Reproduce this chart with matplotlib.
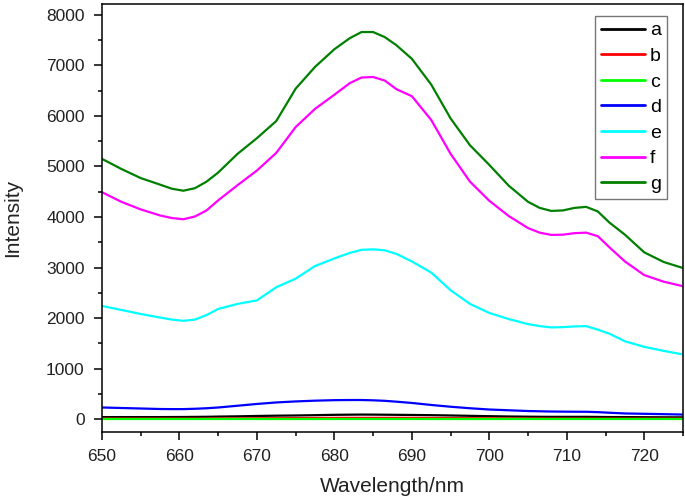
import matplotlib
matplotlib.use("Agg")
import matplotlib.pyplot as plt
from matplotlib.ticker import MultipleLocator

plt.rcParams['font.family'] = ['Liberation Sans', 'DejaVu Sans']

wavelength = [650, 652.5, 655, 657.5, 659, 660.5, 662, 663.5, 665, 667.5,
              670, 672.5, 675, 677.5, 680, 682, 683.5, 685, 686.5, 688,
              690, 692.5, 695, 697.5, 700, 702.5, 705, 706.5, 708, 709.5,
              711, 712.5, 714, 715.5, 717.5, 720, 722.5, 725]

a = [40, 40, 40, 40, 41, 42, 44, 46, 50, 55,
     62, 68, 72, 78, 85, 88, 90, 89, 87, 85,
     82, 78, 72, 65, 58, 52, 48, 46, 45, 45,
     45, 45, 43, 41, 40, 38, 36, 35]
b = [10, 10, 10, 10, 10, 10, 10, 11, 12, 14,
     16, 18, 20, 22, 24, 25, 25, 25, 25, 25,
     24, 22, 20, 18, 16, 14, 12, 11, 11, 10,
     10, 10, 10, 10, 10, 10, 10, 10]
c = [-5, -5, -5, -5, -5, -5, -5, -5, -5, -5,
     -5, -5, -5, -5, -5, -5, -5, -5, -5, -5,
     -5, -5, -5, -5, -5, -5, -5, -5, -5, -5,
     -5, -5, -5, -5, -5, -5, -5, -5]
d = [230, 220, 210, 200, 198, 198, 205, 215, 230, 265,
     300, 330, 350, 365, 375, 378, 378, 372, 362, 345,
     320, 280, 245, 215, 190, 175, 160, 155, 150, 148,
     146, 145, 138, 126, 112, 105, 98, 90]
e = [2240, 2160, 2080, 2010, 1970, 1945, 1970, 2060, 2180, 2280,
     2350, 2610, 2780, 3030, 3180, 3290, 3350, 3360, 3340, 3270,
     3120, 2900, 2550, 2280, 2100, 1980, 1880, 1840, 1815, 1820,
     1835, 1840, 1770, 1690, 1540, 1430, 1350, 1280]
f = [4490, 4300, 4150, 4030, 3980, 3955, 4010, 4130, 4330, 4630,
     4920, 5270, 5780, 6140, 6420, 6650, 6760, 6770, 6700, 6530,
     6390, 5920, 5250, 4700, 4320, 4020, 3780, 3690, 3645, 3650,
     3680, 3690, 3620, 3400, 3120, 2850, 2720, 2630]
g = [5150, 4950, 4770, 4640, 4560, 4520, 4570, 4700, 4880, 5250,
     5560, 5900, 6540, 6970, 7320, 7540, 7660, 7660, 7560, 7400,
     7130, 6620, 5950, 5420, 5030, 4620, 4300, 4180, 4120, 4130,
     4180, 4200, 4110, 3890, 3650, 3300, 3110, 2990]

labels = ['a', 'b', 'c', 'd', 'e', 'f', 'g']
series = [a, b, c, d, e, f, g]
colors = ['#000000', '#FF0000', '#00FF00', '#0000FF', '#00FFFF', '#FF00FF', '#008000']

fig = plt.figure(figsize=(6.85, 5.01), dpi=100)
ax = fig.add_axes([102/685, 1 - 432/501, (683-102)/685, (432-4)/501])

for s, lab, col in zip(series, labels, colors):
    ax.plot(wavelength, s, color=col, lw=1.6, label=lab,
            solid_joinstyle='round', solid_capstyle='round')

ax.set_xlim(650, 725)
ax.set_ylim(-255, 8215)
ax.xaxis.set_major_locator(MultipleLocator(10))
ax.xaxis.set_minor_locator(MultipleLocator(5))
ax.yaxis.set_major_locator(MultipleLocator(1000))
ax.yaxis.set_minor_locator(MultipleLocator(500))
ax.tick_params(which='both', direction='out', top=False, right=False, width=1.1)
ax.tick_params(which='major', length=6, labelsize=12.5, pad=6.5, labelcolor='#222222')
ax.tick_params(which='minor', length=3)
for sp in ax.spines.values():
    sp.set_linewidth(1.1)

ax.set_xlabel('Wavelength/nm', fontsize=15, labelpad=9, color='#222222')
ax.set_ylabel('Intensity', fontsize=15, labelpad=17, color='#222222')

leg = ax.legend(loc='upper right',
                bbox_to_anchor=((667-102)/(683-102), 1 - (16-4)/(432-4)),
                fontsize=14, frameon=True, fancybox=False, handlelength=2.3,
                handletextpad=0.25, labelspacing=0.41, borderpad=0.3, borderaxespad=0)
leg.get_frame().set_edgecolor('#555555')
leg.get_frame().set_linewidth(1.0)
for line in leg.get_lines():
    line.set_linewidth(2.0)

fig.savefig('out.png', dpi=100)
